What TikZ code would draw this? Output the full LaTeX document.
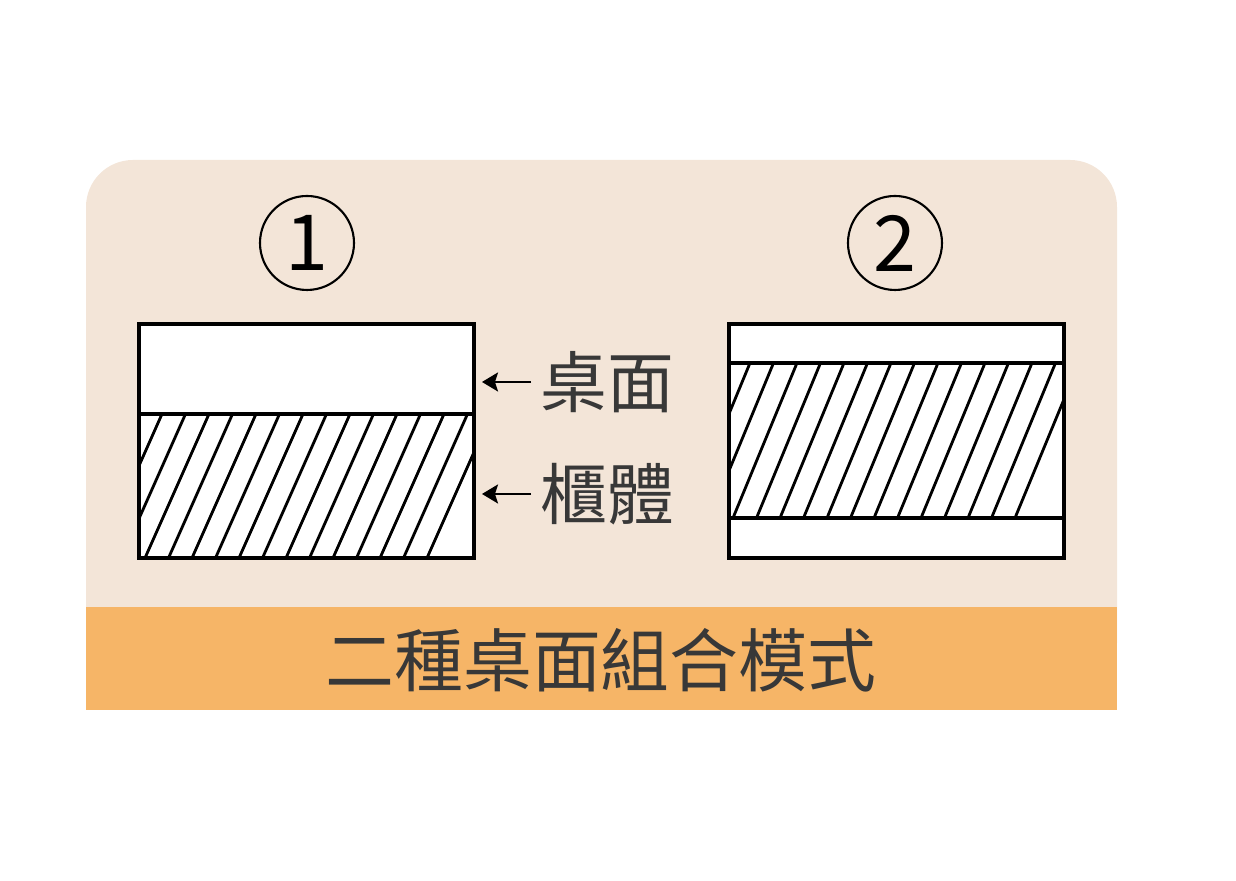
\documentclass[tikz,border=0pt]{standalone}
\usepackage{fontspec}
\newfontfamily\cjk{Noto Sans CJK TC}
\usetikzlibrary{arrows.meta,positioning}
\definecolor{panelcream}{HTML}{F3E5D8}
\definecolor{bandorange}{HTML}{F6B567}
\definecolor{inkgray}{HTML}{383838}

\begin{document}
\begin{tikzpicture}[x=0.1mm,y=-0.1mm,
  boxline/.style={line width=0.95pt},
  hatchline/.style={line width=0.8pt},
  numcircle/.style={circle,draw,line width=0.6pt,minimum size=9.4mm,inner sep=0pt,
    font=\cjk\fontsize{22}{22}\selectfont},
  partlabel/.style={inner sep=0.9mm,text=inkgray,font=\cjk\fontsize{19}{19}\selectfont},
  pointer/.style={line width=0.6pt,-{Stealth[length=1.6mm,width=1.9mm,inset=0.3mm]}}]
\useasboundingbox (0,0) rectangle (1236,881);
\fill[panelcream,rounded corners=4.7mm] (86,160) rectangle (1117,690);
\fill[bandorange] (86,607) rectangle (1117,710);
\node[text=inkgray,inner sep=0pt,font=\cjk\fontsize{19.6}{19.6}\selectfont] (title) at (601,660) {二種桌面組合模式};

% model 1
\node[numcircle] (num1) at (307,243) {1};
\fill[white] (139,324) rectangle (474,558);
\begin{scope}
\clip (139,414) rectangle (474,558);
\foreach \k in {-3,...,14}
  \draw[hatchline] ({162+23.5*\k},414) -- ({98+23.5*\k},558);
\end{scope}
\draw[boxline] (139,324) rectangle (474,558) (139,414) -- (474,414);
\node[partlabel,anchor=west] (toplbl) at (531,382) {桌面};
\node[partlabel,anchor=west] (bodylbl) at (531,494) {櫃體};
\coordinate (toptip) at (482,382);
\coordinate (bodytip) at (482,494);
\draw[pointer] (toplbl) -- (toptip);
\draw[pointer] (bodylbl) -- (bodytip);

% model 2
\node[numcircle] (num2) at (895,243) {2};
\fill[white] (729,324) rectangle (1064,558);
\begin{scope}
\clip (729,363) rectangle (1064,518);
\foreach \k in {-3,...,14}
  \draw[hatchline] ({750+23.5*\k},363) -- ({686+23.5*\k},518);
\end{scope}
\draw[boxline] (729,324) rectangle (1064,558) (729,363) -- (1064,363) (729,518) -- (1064,518);
\end{tikzpicture}
\end{document}
